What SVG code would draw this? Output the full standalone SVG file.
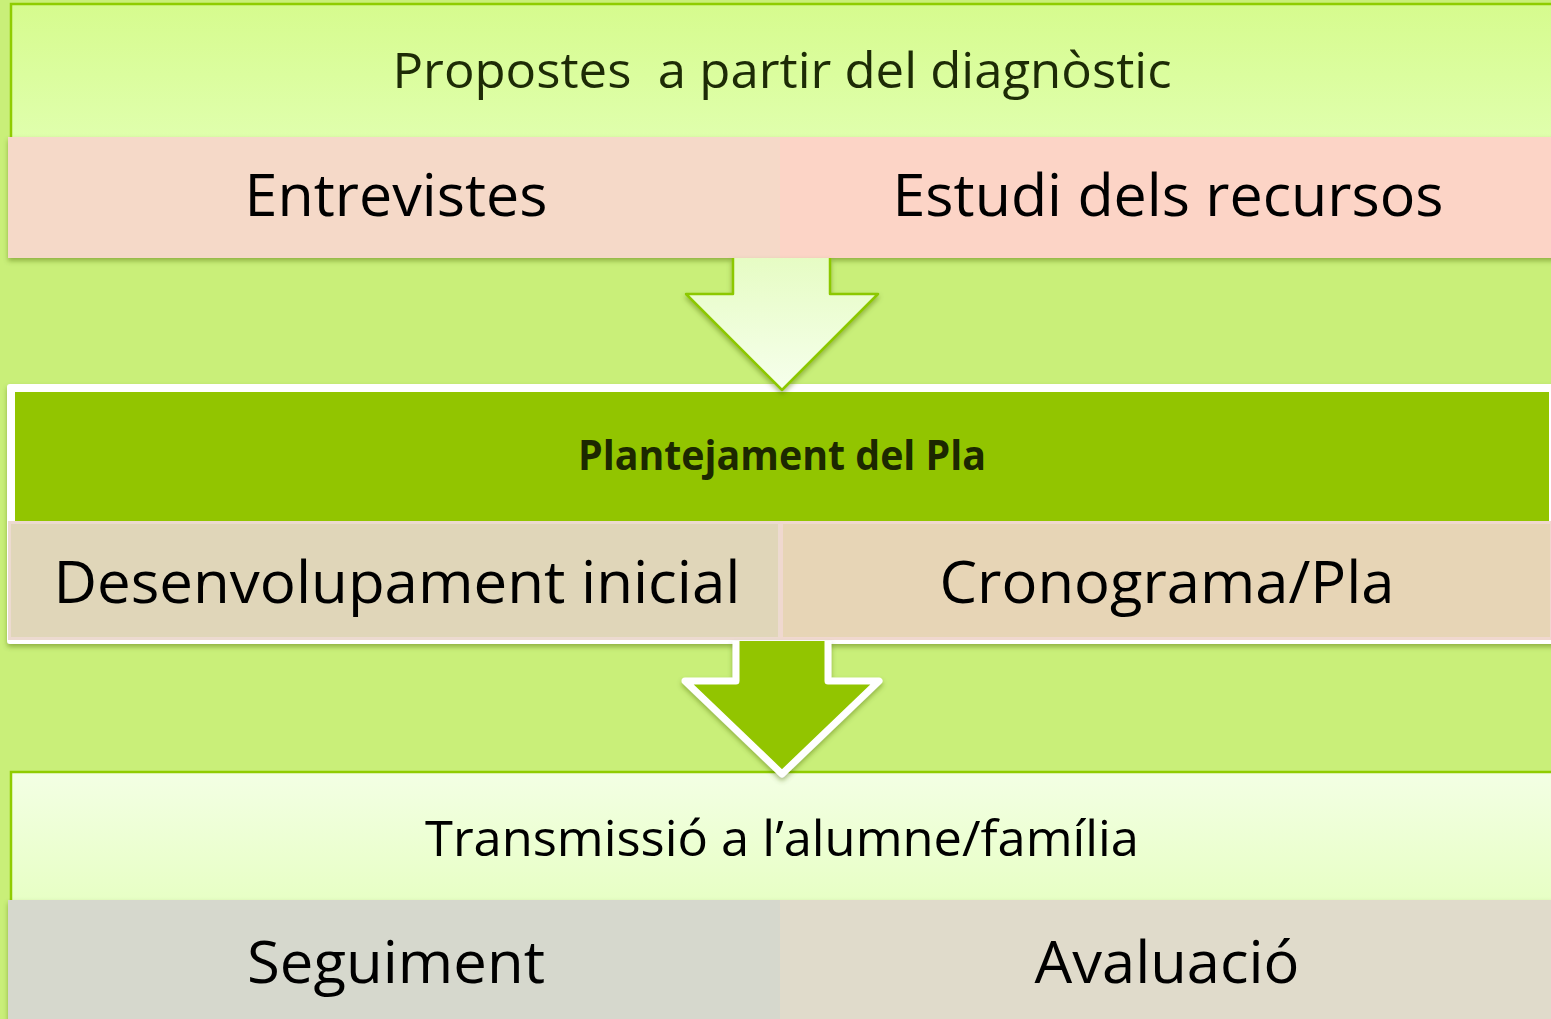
<svg xmlns="http://www.w3.org/2000/svg" width="1551" height="1019" viewBox="0 0 1551 1019">
  <style>
    .t { font-family: "Open Sans", "Noto Sans", sans-serif; text-anchor: middle; }
    .big { font-size: 59px; fill: #000; }
    .mid { font-size: 50px; }
    .hdr { font-size: 41px; font-weight: bold; fill: #1c2800; }
  </style>
  <defs>
    <linearGradient id="gTop" x1="0" y1="0" x2="0" y2="1">
      <stop offset="0" stop-color="#d6fb8e"/>
      <stop offset="1" stop-color="#e0ffae"/>
    </linearGradient>
    <linearGradient id="gBot" x1="0" y1="0" x2="0" y2="1">
      <stop offset="0" stop-color="#f3ffe4"/>
      <stop offset="1" stop-color="#e6ffc2"/>
    </linearGradient>
    <linearGradient id="gArr" x1="0" y1="0" x2="0" y2="1">
      <stop offset="0" stop-color="#e6fcc4"/>
      <stop offset="1" stop-color="#f6ffec"/>
    </linearGradient>
    <filter id="sh" x="-5%" y="-10%" width="110%" height="130%">
      <feDropShadow dx="0" dy="3" stdDeviation="2.5" flood-color="#4a6a00" flood-opacity="0.45"/>
    </filter>
  </defs>
  <rect x="0" y="0" width="1551" height="1019" fill="#c9ef79"/>

  <g id="node-propostes">
    <rect x="11" y="4" width="1545" height="140" fill="url(#gTop)" stroke="#8fcc00" stroke-width="2.5"/>
    <text class="t mid" x="782" y="88" fill="#1d2b06" xml:space="preserve" textLength="779" lengthAdjust="spacingAndGlyphs">Propostes  a partir del diagnòstic</text>
  </g>
  <g id="row1" filter="url(#sh)">
    <g id="node-entrevistes">
      <rect x="8" y="137" width="772" height="121" fill="#f5d9c8"/>
      <text class="t big" x="396" y="216" textLength="303" lengthAdjust="spacingAndGlyphs">Entrevistes</text>
    </g>
    <g id="node-estudi">
      <rect x="780" y="137" width="775" height="121" fill="#fcd4c6"/>
      <text class="t big" x="1168" y="216" textLength="551" lengthAdjust="spacingAndGlyphs">Estudi dels recursos</text>
    </g>
  </g>

  <g id="node-plantejament">
    <rect x="10" y="387" width="1545" height="254" fill="#ffffff" stroke="#ffffff" stroke-width="6" stroke-linejoin="round" filter="url(#sh)"/>
    <rect x="15" y="392" width="1534" height="130" fill="#92c500"/>
    <text class="t hdr" x="782" y="470" textLength="408" lengthAdjust="spacingAndGlyphs">Plantejament del Pla</text>
  </g>
  <g id="row2">
    <g id="node-desenvolupament">
      <rect x="9.5" y="522.5" width="770" height="116" fill="#e0d6b9" stroke="#ecdad0" stroke-width="3"/>
      <text class="t big" x="397" y="603" textLength="687" lengthAdjust="spacingAndGlyphs">Desenvolupament inicial</text>
    </g>
    <g id="node-cronograma">
      <rect x="781.5" y="522.5" width="770" height="116" fill="#e7d5b6" stroke="#f0d8cf" stroke-width="3"/>
      <text class="t big" x="1167" y="603" textLength="455" lengthAdjust="spacingAndGlyphs">Cronograma/Pla</text>
    </g>
  </g>

  <g id="node-transmissio">
    <rect x="11" y="772" width="1545" height="140" fill="url(#gBot)" stroke="#8fcc00" stroke-width="2.5"/>
    <text class="t mid" x="782" y="856" fill="#000" textLength="714" lengthAdjust="spacingAndGlyphs">Transmissió a l’alumne/família</text>
  </g>
  <g id="row3" filter="url(#sh)">
    <g id="node-seguiment">
      <rect x="8" y="900" width="772" height="125" fill="#d6d8cd"/>
      <text class="t big" x="396" y="983" textLength="298" lengthAdjust="spacingAndGlyphs">Seguiment</text>
    </g>
    <g id="node-avaluacio">
      <rect x="780" y="900" width="775" height="125" fill="#e0dbcb"/>
      <text class="t big" x="1167" y="983" textLength="265" lengthAdjust="spacingAndGlyphs">Avaluació</text>
    </g>
  </g>

  <g id="connectors">
    <g filter="url(#sh)">
      <path d="M733,258 L830,258 L830,294 L878,294 L782,390 L686,294 L733,294 Z" fill="url(#gArr)"/>
      <path d="M733,258 L733,294 L686,294 L782,390 L878,294 L830,294 L830,258" fill="none" stroke="#8cc800" stroke-width="2.5" stroke-linejoin="round"/>
    </g>
    <g filter="url(#sh)">
      <path d="M736,641 L828,641 L828,681 L879,681 L782,774 L685,681 L736,681 Z" fill="#92c500"/>
      <path d="M736,641 L736,681 L685,681 L782,774 L879,681 L828,681 L828,641" fill="none" stroke="#ffffff" stroke-width="7" stroke-linejoin="round"/>
    </g>
  </g>
</svg>
